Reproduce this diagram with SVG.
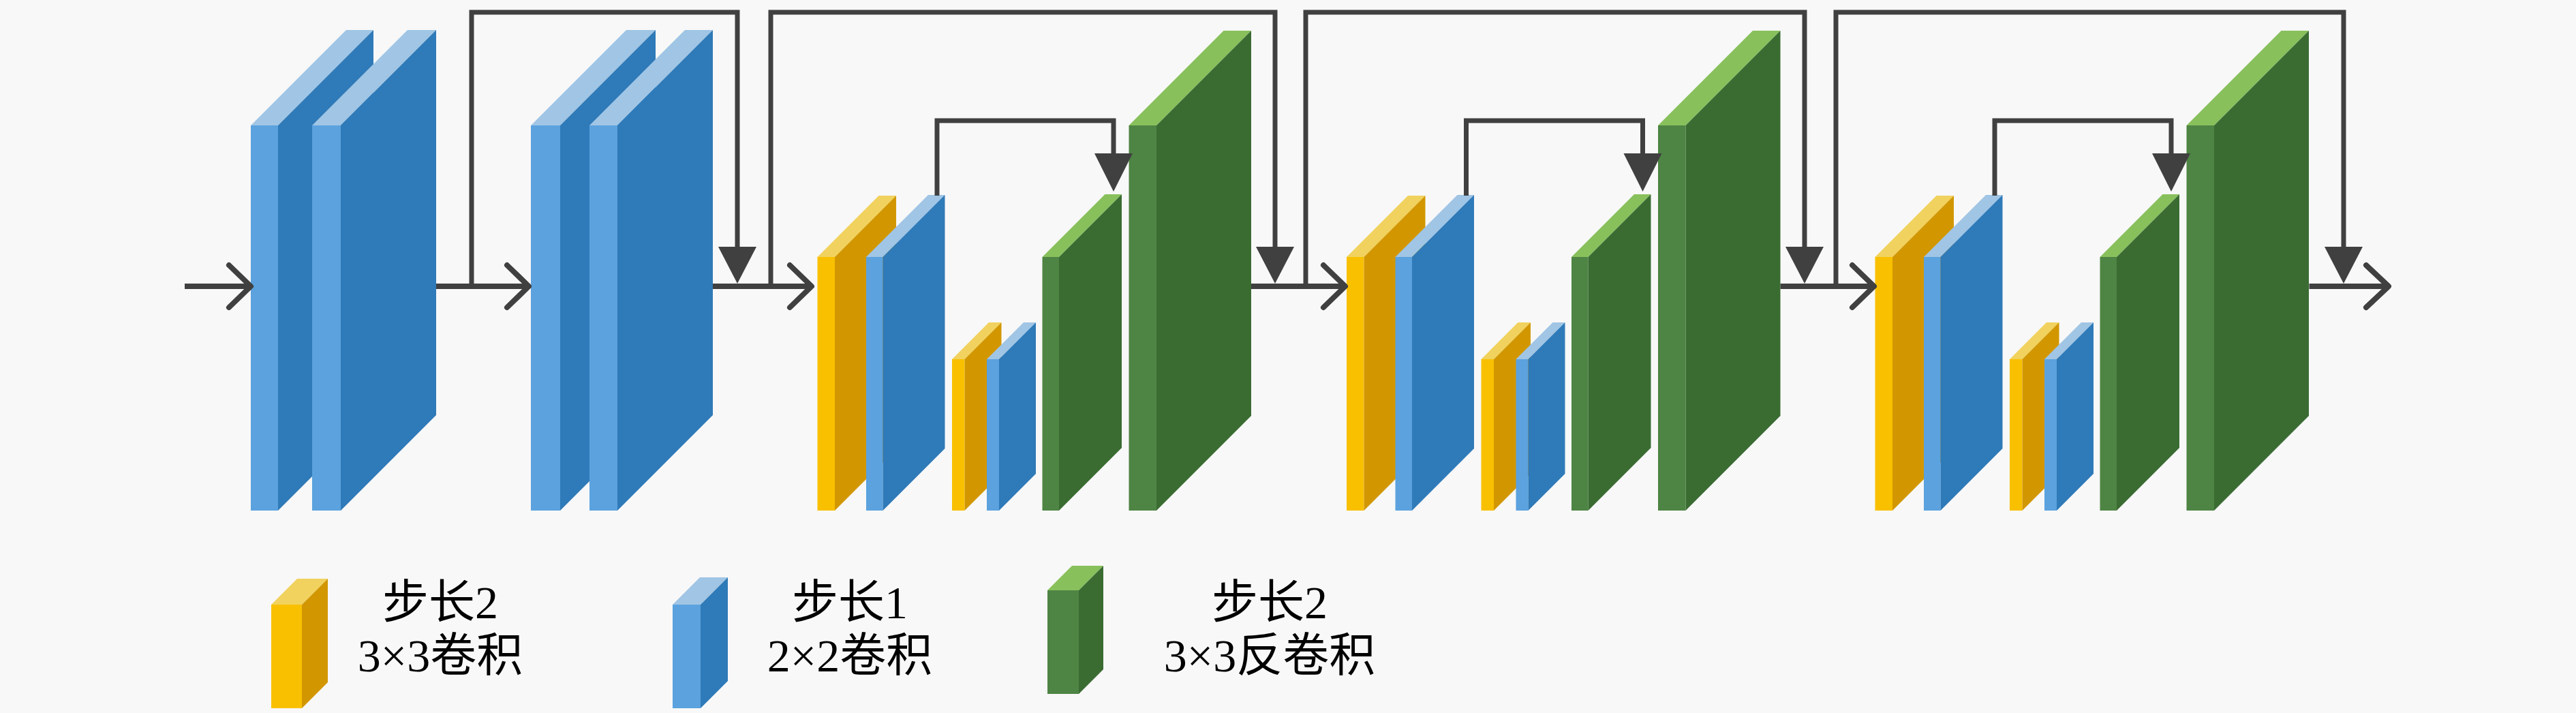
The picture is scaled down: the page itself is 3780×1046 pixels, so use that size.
<svg xmlns="http://www.w3.org/2000/svg" width="3780" height="1046" viewBox="0 0 3780 1046">
<style>
.yf{fill:#F9C000}.ys{fill:#D29700}.yt{fill:#F1D25E}
.bf{fill:#5BA2DE}.bs{fill:#2F7AB8}.bt{fill:#A0C5E5}
.gf{fill:#4E8444}.gs{fill:#3A6C32}.gt{fill:#88C05C}
.ln{fill:none;stroke:#404040;stroke-width:8;stroke-linejoin:miter}
.sk{fill:none;stroke:#404040;stroke-width:7;stroke-linejoin:miter}
.ch{fill:none;stroke:#404040;stroke-width:8;stroke-linecap:round;stroke-linejoin:round}
.ah{fill:#404040}
.lbl{font-family:"Liberation Serif","Noto Sans CJK SC",serif;font-size:68px;fill:#000;text-anchor:middle}
</style>
<rect x="0" y="0" width="3780" height="1046" fill="#F8F8F8"/>

<!-- section 0: blue stride-1 blocks -->
<g id="b1"><rect class="bf" x="368" y="184" width="40" height="565"/><polygon class="bt" points="368,184 408,184 548,44 508,44"/><polygon class="bs" points="408,184 548,44 548,609 408,749"/></g>
<g id="b2"><rect class="bf" x="458" y="184" width="42" height="565"/><polygon class="bt" points="458,184 500,184 640,44 598,44"/><polygon class="bs" points="500,184 640,44 640,609 500,749"/></g>
<g id="b3"><rect class="bf" x="779" y="184" width="43" height="565"/><polygon class="bt" points="779,184 822,184 962,44 919,44"/><polygon class="bs" points="822,184 962,44 962,609 822,749"/></g>
<g id="b4"><rect class="bf" x="865" y="184" width="41" height="565"/><polygon class="bt" points="865,184 906,184 1046,44 1005,44"/><polygon class="bs" points="906,184 1046,44 1046,609 906,749"/></g>

<!-- section 1 -->
<g id="sec1">
<g id="s1-conv"><rect class="yf" x="1199.5" y="377" width="25.5" height="372"/><polygon class="yt" points="1199.5,377 1225,377 1315,287 1289.5,287"/><polygon class="ys" points="1225,377 1315,287 1315,659 1225,749"/></g>
<g id="s1-conv1"><rect class="bf" x="1271" y="377" width="24.5" height="372"/><polygon class="bt" points="1271,377 1295.5,377 1386.5,286 1362,286"/><polygon class="bs" points="1295.5,377 1386.5,286 1386.5,658 1295.5,749"/></g>
<g id="s1-sconv"><rect class="yf" x="1397" y="527" width="18.5" height="222"/><polygon class="yt" points="1397,527 1415.5,527 1469.5,473 1451,473"/><polygon class="ys" points="1415.5,527 1469.5,473 1469.5,695 1415.5,749"/></g>
<g id="s1-sconv1"><rect class="bf" x="1448" y="527" width="18" height="222"/><polygon class="bt" points="1448,527 1466,527 1520,473 1502,473"/><polygon class="bs" points="1466,527 1520,473 1520,695 1466,749"/></g>
<g id="s1-deconv1"><rect class="gf" x="1529.5" y="377" width="24.5" height="372"/><polygon class="gt" points="1529.5,377 1554,377 1646,285 1621.5,285"/><polygon class="gs" points="1554,377 1646,285 1646,657 1554,749"/></g>
<g id="s1-deconv2"><rect class="gf" x="1656.5" y="184" width="40.5" height="565"/><polygon class="gt" points="1656.5,184 1697,184 1836,45 1795.5,45"/><polygon class="gs" points="1697,184 1836,45 1836,610 1697,749"/></g>
</g>

<!-- section 2 -->
<g id="sec2" transform="translate(776.5,0)">
<g id="s2-conv"><rect class="yf" x="1199.5" y="377" width="25.5" height="372"/><polygon class="yt" points="1199.5,377 1225,377 1315,287 1289.5,287"/><polygon class="ys" points="1225,377 1315,287 1315,659 1225,749"/></g>
<g id="s2-conv1"><rect class="bf" x="1271" y="377" width="24.5" height="372"/><polygon class="bt" points="1271,377 1295.5,377 1386.5,286 1362,286"/><polygon class="bs" points="1295.5,377 1386.5,286 1386.5,658 1295.5,749"/></g>
<g id="s2-sconv"><rect class="yf" x="1397" y="527" width="18.5" height="222"/><polygon class="yt" points="1397,527 1415.5,527 1469.5,473 1451,473"/><polygon class="ys" points="1415.5,527 1469.5,473 1469.5,695 1415.5,749"/></g>
<g id="s2-sconv1"><rect class="bf" x="1448" y="527" width="18" height="222"/><polygon class="bt" points="1448,527 1466,527 1520,473 1502,473"/><polygon class="bs" points="1466,527 1520,473 1520,695 1466,749"/></g>
<g id="s2-deconv1"><rect class="gf" x="1529.5" y="377" width="24.5" height="372"/><polygon class="gt" points="1529.5,377 1554,377 1646,285 1621.5,285"/><polygon class="gs" points="1554,377 1646,285 1646,657 1554,749"/></g>
<g id="s2-deconv2"><rect class="gf" x="1656.5" y="184" width="40.5" height="565"/><polygon class="gt" points="1656.5,184 1697,184 1836,45 1795.5,45"/><polygon class="gs" points="1697,184 1836,45 1836,610 1697,749"/></g>
</g>

<!-- section 3 -->
<g id="sec3" transform="translate(1552,0)">
<g id="s3-conv"><rect class="yf" x="1199.5" y="377" width="25.5" height="372"/><polygon class="yt" points="1199.5,377 1225,377 1315,287 1289.5,287"/><polygon class="ys" points="1225,377 1315,287 1315,659 1225,749"/></g>
<g id="s3-conv1"><rect class="bf" x="1271" y="377" width="24.5" height="372"/><polygon class="bt" points="1271,377 1295.5,377 1386.5,286 1362,286"/><polygon class="bs" points="1295.5,377 1386.5,286 1386.5,658 1295.5,749"/></g>
<g id="s3-sconv"><rect class="yf" x="1397" y="527" width="18.5" height="222"/><polygon class="yt" points="1397,527 1415.5,527 1469.5,473 1451,473"/><polygon class="ys" points="1415.5,527 1469.5,473 1469.5,695 1415.5,749"/></g>
<g id="s3-sconv1"><rect class="bf" x="1448" y="527" width="18" height="222"/><polygon class="bt" points="1448,527 1466,527 1520,473 1502,473"/><polygon class="bs" points="1466,527 1520,473 1520,695 1466,749"/></g>
<g id="s3-deconv1"><rect class="gf" x="1529.5" y="377" width="24.5" height="372"/><polygon class="gt" points="1529.5,377 1554,377 1646,285 1621.5,285"/><polygon class="gs" points="1554,377 1646,285 1646,657 1554,749"/></g>
<g id="s3-deconv2"><rect class="gf" x="1656.5" y="184" width="40.5" height="565"/><polygon class="gt" points="1656.5,184 1697,184 1836,45 1795.5,45"/><polygon class="gs" points="1697,184 1836,45 1836,610 1697,749"/></g>
</g>

<!-- connectors -->
<g id="connectors">
<path class="ln" d="M271,420 H366"/><path class="ch" d="M336,389 L368,420 L336,451"/>
<path class="ln" d="M640,420 H774"/><path class="ch" d="M744,389 L776,420 L744,451"/>
<path class="ln" d="M1046,420 H1189"/><path class="ch" d="M1159,389 L1191,420 L1159,451"/>
<path class="ln" d="M1836,420 H1972"/><path class="ch" d="M1942,389 L1974,420 L1942,451"/>
<path class="ln" d="M2612.5,420 H2748"/><path class="ch" d="M2718,389 L2750,420 L2718,451"/>
<path class="ln" d="M3388.5,420 H3503"/><path class="ch" d="M3472,389 L3505,420 L3472,451"/>

<path class="sk" d="M692,420 V18 H1082 V364"/><polygon class="ah" points="1054,362 1110,362 1082,416"/>
<path class="sk" d="M1131,420 V18 H1871 V364"/><polygon class="ah" points="1843,362 1899,362 1871,416"/>
<path class="sk" d="M1916,420 V18 H2648 V364"/><polygon class="ah" points="2620,362 2676,362 2648,416"/>
<path class="sk" d="M2694,420 V18 H3439 V364"/><polygon class="ah" points="3411,362 3467,362 3439,416"/>

<path class="sk" d="M1375,287 V177 H1634 V227"/><polygon class="ah" points="1606,225 1662,225 1634,281"/>
<path class="sk" d="M2151.5,287 V177 H2410.5 V227"/><polygon class="ah" points="2382.5,225 2438.5,225 2410.5,281"/>
<path class="sk" d="M2927,287 V177 H3186 V227"/><polygon class="ah" points="3158,225 3214,225 3186,281"/>
</g>

<!-- legend -->
<g id="legend-yellow"><rect class="yf" x="398" y="887" width="45" height="152"/><polygon class="yt" points="398,887 443,887 481,849 436,849"/><polygon class="ys" points="443,887 481,849 481,1001 443,1039"/>
<text class="lbl" x="646" y="907">步长2</text><text class="lbl" x="646" y="985">3×3卷积</text></g>
<g id="legend-blue"><rect class="bf" x="987" y="887" width="41" height="152"/><polygon class="bt" points="987,887 1028,887 1068,847 1027,847"/><polygon class="bs" points="1028,887 1068,847 1068,999 1028,1039"/>
<text class="lbl" x="1247" y="907">步长1</text><text class="lbl" x="1247" y="985">2×2卷积</text></g>
<g id="legend-green"><rect class="gf" x="1537" y="866" width="46" height="152"/><polygon class="gt" points="1537,866 1583,866 1619,830 1573,830"/><polygon class="gs" points="1583,866 1619,830 1619,982 1583,1018"/>
<text class="lbl" x="1863" y="907">步长2</text><text class="lbl" x="1863" y="985">3×3反卷积</text></g>
</svg>
